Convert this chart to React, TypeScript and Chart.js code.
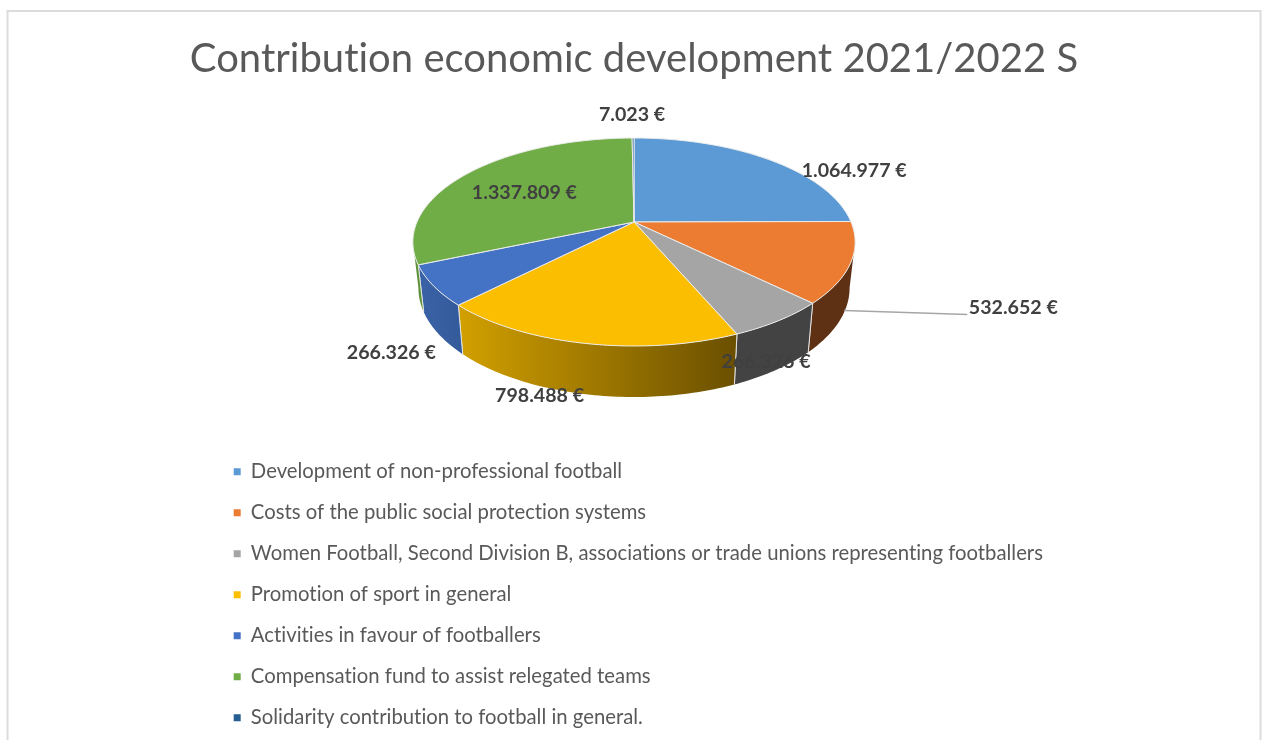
import React, { useEffect, useRef } from "react";
import { Chart, registerables } from "chart.js";

Chart.register(...registerables);

const titleText = "Contribution economic development 2021/2022 S";
const categories = [
  "Development of non-professional football",
  "Costs of the public social protection systems",
  "Women Football, Second Division B, associations or trade unions representing footballers",
  "Promotion of sport in general",
  "Activities in favour of footballers",
  "Compensation fund to assist relegated teams",
  "Solidarity contribution to football in general.",
];
const values = [1064977, 532652, 266326, 798488, 266326, 1337809, 7023];
const colors = ["#5B9AD5", "#EB7C32", "#A5A5A5", "#FCBE00", "#4472C4", "#70AD47", "#255E91"];
const wallColors: [string, string][] = [
  ["#3F74A5", "#3F74A5"],
  ["#5F3114", "#5F3114"],
  ["#434343", "#434343"],
  ["#D2A000", "#6A4F00"],
  ["#3A62A6", "#335B9B"],
  ["#5E9238", "#5E9238"],
  ["#1C4870", "#1C4870"],
];
// label offset from the middle of each slice's rim, in pixels
const labelOffsets: [number, number][] = [
  [85.5, 11],
  [162.6, 44.9],
  [-13, 41.3],
  [-45, 52.6],
  [-42, 67.3],
  [55, 20.5],
  [-1, -23.2],
];

const FONT = "Lato, 'Open Sans', sans-serif";
const APEX_Y = 222;
const TOP_Y_RADIUS = 100.15;
const PERSPECTIVE = -0.1923;
const WALL_CENTER_Y = 267;
const WALL_Y_RADIUS = 105;
const WALL_X_SCALE = 0.975;
const WALL_FROM = (11 * Math.PI) / 180;
const WALL_TO = (169 * Math.PI) / 180;

const formatEuro = (v: number) => String(v).replace(/\B(?=(\d{3})+$)/g, ".") + " €";

const topPoint = (cx: number, r: number, t: number): [number, number] => {
  const d = 1 + PERSPECTIVE * Math.sin(t);
  return [cx + (r * Math.cos(t)) / d, APEX_Y + (TOP_Y_RADIUS * Math.sin(t)) / d];
};
const bottomPoint = (cx: number, r: number, t: number): [number, number] => {
  const d = 1 + PERSPECTIVE * Math.sin(t);
  return [cx + (WALL_X_SCALE * r * Math.cos(t)) / d, WALL_CENTER_Y + (WALL_Y_RADIUS * Math.sin(t)) / d];
};
const sample = (a: number, b: number) => {
  const n = Math.max(2, Math.ceil(((b - a) * 180) / Math.PI));
  const out: number[] = [];
  for (let i = 0; i <= n; i++) out.push(a + ((b - a) * i) / n);
  return out;
};

const pie3d = {
  id: "pie3d",
  beforeDraw(chart: any) {
    const { ctx } = chart;
    // a tiny letter spacing switches off Lato's "ti" ligature, which the reference does not have
    ctx.letterSpacing = "0.01px";
    ctx.save();
    ctx.fillStyle = "#ffffff";
    ctx.fillRect(0, 0, chart.width, chart.height);
    ctx.strokeStyle = "#dcdcdc";
    ctx.lineWidth = 2;
    ctx.strokeRect(7.5, 11, 1253, 800);
    ctx.restore();
  },
  afterLayout(chart: any) {
    const legend = chart.legend;
    legend.left = 213;
    legend.top = 440.8;
    legend.right = 1260;
    legend.bottom = 800;
  },
  beforeDatasetDraw(chart: any) {
    const { ctx } = chart;
    const arcs = chart.getDatasetMeta(0).data;
    ctx.save();
    arcs.forEach((arc: any, i: number) => {
      const a = Math.max(arc.startAngle, WALL_FROM);
      const b = Math.min(arc.endAngle, WALL_TO);
      if (b <= a) return;
      const r = arc.outerRadius;
      const ts = sample(a, b);
      const tops = ts.map((t) => topPoint(arc.x, r, t));
      const bottoms = ts.map((t) => bottomPoint(arc.x, r, t)).reverse();
      const xs = tops.concat(bottoms).map((p) => p[0]);
      const grad = ctx.createLinearGradient(Math.min(...xs), 0, Math.max(...xs), 0);
      grad.addColorStop(0, wallColors[i][0]);
      grad.addColorStop(1, wallColors[i][1]);
      ctx.beginPath();
      tops.concat(bottoms).forEach((p, k) => (k ? ctx.lineTo(p[0], p[1]) : ctx.moveTo(p[0], p[1])));
      ctx.closePath();
      ctx.fillStyle = grad;
      ctx.fill();
      ctx.strokeStyle = "rgba(235,235,235,0.9)";
      ctx.lineWidth = 1;
      [a, b].forEach((t) => {
        if (t === WALL_FROM || t === WALL_TO) return;
        const p = topPoint(arc.x, r, t);
        const q = bottomPoint(arc.x, r, t);
        ctx.beginPath();
        ctx.moveTo(p[0], p[1]);
        ctx.lineTo(q[0], q[1]);
        ctx.stroke();
      });
    });
    arcs.forEach((arc: any, i: number) => {
      ctx.beginPath();
      ctx.moveTo(arc.x, APEX_Y);
      sample(arc.startAngle, arc.endAngle).forEach((t) => {
        const p = topPoint(arc.x, arc.outerRadius, t);
        ctx.lineTo(p[0], p[1]);
      });
      ctx.closePath();
      ctx.fillStyle = colors[i];
      ctx.fill();
      ctx.strokeStyle = "#ececec";
      ctx.lineWidth = 1;
      ctx.stroke();
    });
    ctx.restore();
    return false;
  },
  afterDatasetsDraw(chart: any) {
    const { ctx } = chart;
    const arcs = chart.getDatasetMeta(0).data;
    ctx.save();
    const pos = arcs.map((arc: any, i: number) => {
      const p = topPoint(arc.x, arc.outerRadius, (arc.startAngle + arc.endAngle) / 2);
      return [p[0] + labelOffsets[i][0], p[1] + labelOffsets[i][1]];
    });
    // leader line of the second label
    ctx.strokeStyle = "#a6a6a6";
    ctx.lineWidth = 1.5;
    ctx.beginPath();
    ctx.moveTo(844, pos[1][1] + 3);
    ctx.lineTo(pos[1][0] - 46, pos[1][1] + 7);
    ctx.stroke();
    ctx.font = `bold 19.6px ${FONT}`;
    ctx.fillStyle = "#404040";
    ctx.textAlign = "center";
    ctx.textBaseline = "middle";
    arcs.forEach((_: any, i: number) => {
      ctx.fillText(formatEuro(values[i]), pos[i][0], pos[i][1]);
    });
    ctx.restore();
  },
};

export default function App() {
  const ref = useRef<HTMLCanvasElement>(null);
  useEffect(() => {
    const chart = new Chart(ref.current as HTMLCanvasElement, {
      type: "pie",
      data: {
        labels: categories,
        datasets: [{ data: values, backgroundColor: colors, borderColor: "#ececec", borderWidth: 1, radius: 217 }],
      },
      options: {
        animation: false,
        responsive: false,
        layout: { padding: { left: 1 } },
        plugins: {
          tooltip: { enabled: false },
          title: {
            display: true,
            text: titleText,
            color: "#595959",
            font: { family: FONT, size: 40, weight: "normal" },
            padding: { top: 35, bottom: 10 },
          },
          legend: {
            position: "chartArea",
            align: "start",
            labels: {
              color: "#595959",
              font: { family: FONT, size: 20.3 },
              boxWidth: 7,
              boxHeight: 7,
              padding: 20.7,
              generateLabels: (c: any) =>
                (Chart as any).overrides.pie.plugins.legend.labels
                  .generateLabels(c)
                  .map((l: any) => ({ ...l, lineWidth: 0 })),
            },
          },
        },
      } as any,
      plugins: [pie3d as any],
    });
    return () => chart.destroy();
  }, []);
  return (
    <canvas
      ref={ref}
      width={1267}
      height={740}
      style={{ position: "fixed", left: 0, top: 0, display: "block" }}
    />
  );
}
